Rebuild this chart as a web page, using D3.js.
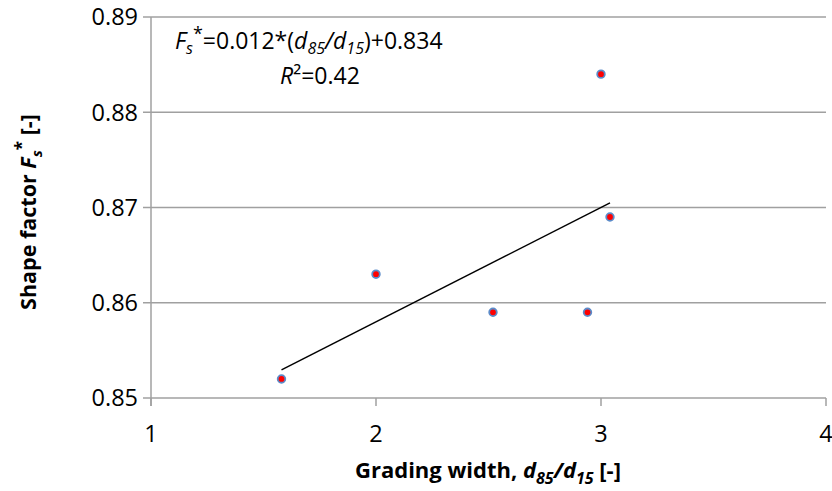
<!DOCTYPE html>
<html><head><meta charset="utf-8">
<script src="https://cdn.jsdelivr.net/npm/d3@7"></script>
<style>body{margin:0;background:#fff}svg{display:block}text{font-family:"Open Sans",Lato,sans-serif}</style>
</head><body>
<svg id="c" width="832" height="491"></svg>
<script>
const xValues = [1.58, 2.0, 2.52, 2.94, 3.0, 3.04];
const yValues = [0.852, 0.863, 0.859, 0.859, 0.884, 0.869];
const xTicks = [1, 2, 3, 4];
const yTicks = [0.85, 0.86, 0.87, 0.88, 0.89];
const slope = 0.012, intercept = 0.834;
const trendRange = [1.58, 3.04];

const svg = d3.select("#c");
const L = 151, R = 826, T = 17, B = 398;
const x = d3.scaleLinear().domain([1, 4]).range([L, R]);
const y = d3.scaleLinear().domain([0.85, 0.89]).range([B, T]);
const grey = "#a0a0a0";

svg.append("g").selectAll("line").data(yTicks).join("line")
  .attr("x1", L - 8).attr("x2", R).attr("y1", d => y(d)).attr("y2", d => y(d))
  .attr("stroke", grey).attr("stroke-width", 1.5);
svg.append("line").attr("x1", L).attr("x2", L).attr("y1", T).attr("y2", B + 8)
  .attr("stroke", grey).attr("stroke-width", 1.5);
svg.append("g").selectAll("line").data(xTicks).join("line")
  .attr("x1", d => x(d)).attr("x2", d => x(d)).attr("y1", B).attr("y2", B + 8)
  .attr("stroke", grey).attr("stroke-width", 1.5);

svg.append("g").selectAll("text").data(yTicks).join("text")
  .attr("x", L - 13).attr("y", d => y(d)).attr("dy", "0.36em")
  .attr("text-anchor", "end").attr("font-size", 23.5).attr("fill", "#000")
  .text(d => d3.format(".2f")(d));
svg.append("g").selectAll("text").data(xTicks).join("text")
  .attr("x", d => x(d)).attr("y", 442)
  .attr("text-anchor", "middle").attr("font-size", 23.5).attr("fill", "#000")
  .text(d => d);

svg.append("line")
  .attr("x1", x(trendRange[0])).attr("y1", y(slope * trendRange[0] + intercept))
  .attr("x2", x(trendRange[1])).attr("y2", y(slope * trendRange[1] + intercept))
  .attr("stroke", "#000").attr("stroke-width", 1.5);

svg.append("g").selectAll("circle").data(xValues.map((v, i) => [v, yValues[i]])).join("circle")
  .attr("cx", d => x(d[0])).attr("cy", d => y(d[1])).attr("r", 3.8)
  .attr("fill", "#ff0000").attr("stroke", "#5b8bc9").attr("stroke-width", 1.8);

const eq = svg.append("text").attr("x", 175).attr("y", 49).attr("font-size", 23).attr("fill", "#000");
eq.append("tspan").attr("font-style", "italic").text("F");
eq.append("tspan").attr("font-style", "italic").attr("font-size", 16).attr("dy", 5).text("s");
eq.append("tspan").attr("font-size", 18).attr("dy", -14).text("*");
eq.append("tspan").attr("dy", 9).text("=0.012*(");
eq.append("tspan").attr("font-style", "italic").text("d");
eq.append("tspan").attr("font-style", "italic").attr("font-size", 16).attr("dy", 5).text("85");
eq.append("tspan").attr("font-style", "italic").attr("dy", -5).text("/d");
eq.append("tspan").attr("font-style", "italic").attr("font-size", 16).attr("dy", 5).text("15");
eq.append("tspan").attr("dy", -5).text(")+0.834");
const r2 = svg.append("text").attr("x", 280).attr("y", 84).attr("font-size", 23).attr("fill", "#000");
r2.append("tspan").attr("font-style", "italic").text("R");
r2.append("tspan").text("²=0.42");

const xt = svg.append("text").attr("x", 488).attr("y", 478).attr("text-anchor", "middle")
  .attr("font-size", 22).attr("font-weight", "bold").attr("fill", "#000");
xt.append("tspan").text("Grading width, ");
xt.append("tspan").attr("font-style", "italic").text("d");
xt.append("tspan").attr("font-style", "italic").attr("font-size", 16).attr("dy", 6).text("85");
xt.append("tspan").attr("font-style", "italic").attr("dy", -6).text("/d");
xt.append("tspan").attr("font-style", "italic").attr("font-size", 16).attr("dy", 6).text("15");
xt.append("tspan").attr("dy", -6).text(" [-]");

const yt = svg.append("text").attr("transform", "translate(36,212) rotate(-90)").attr("text-anchor", "middle")
  .attr("font-size", 21.5).attr("font-weight", "bold").attr("fill", "#000");
yt.append("tspan").text("Shape factor ");
yt.append("tspan").attr("font-style", "italic").text("F");
yt.append("tspan").attr("font-style", "italic").attr("font-size", 15).attr("dy", 6).text("s");
yt.append("tspan").attr("font-size", 17).attr("dy", -14).text("*");
yt.append("tspan").attr("dy", 8).text(" [-]");
</script>
</body></html>
